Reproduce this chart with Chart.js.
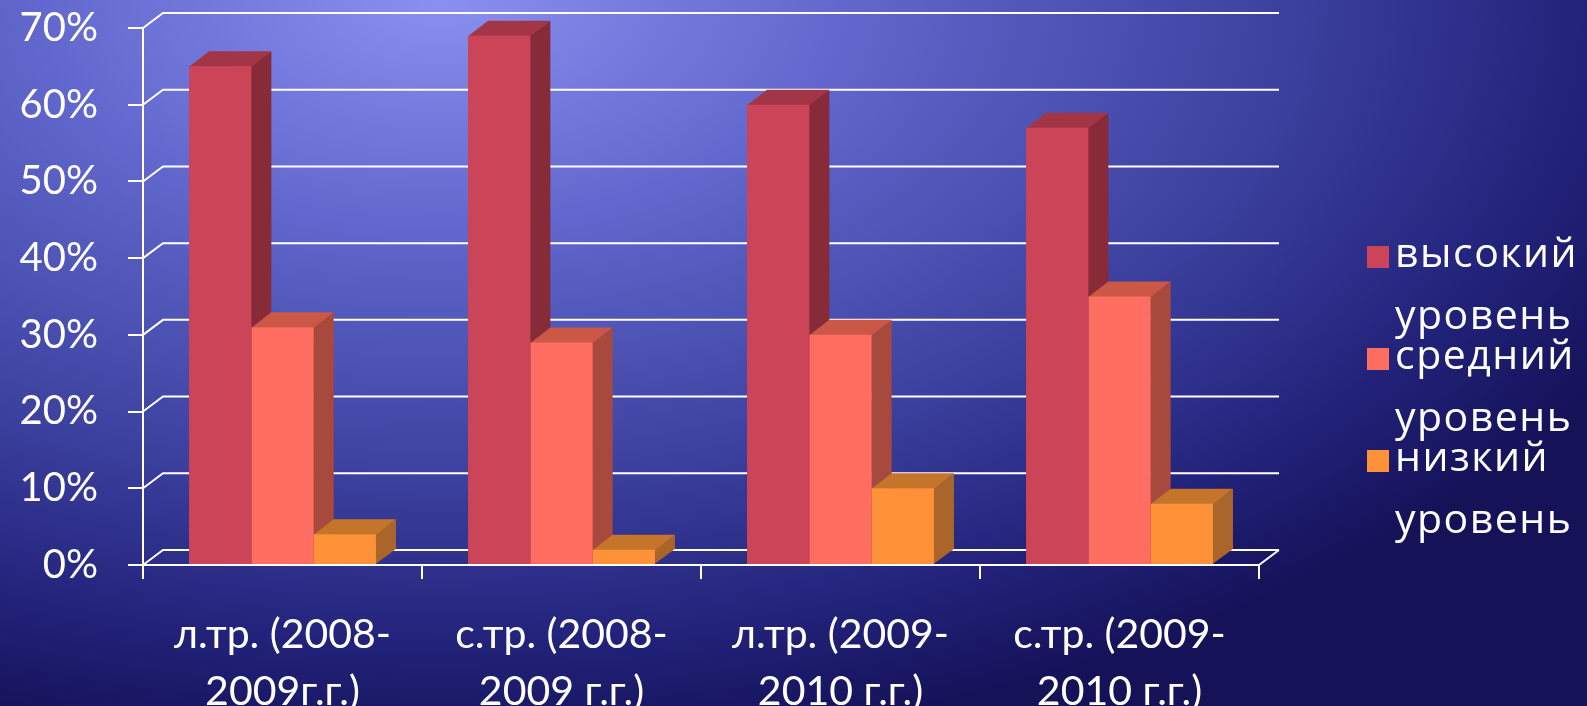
<!DOCTYPE html>
<html lang="ru">
<head>
<meta charset="utf-8">
<title>Уровень</title>
<script src="https://cdn.jsdelivr.net/npm/chart.js@4.4.1/dist/chart.umd.min.js"></script>
<style>
  html, body { margin: 0; padding: 0; overflow: hidden; }
  #wrap {
    width: 1587px;
    height: 706px;
    background: radial-gradient(ellipse 1350px 760px at 440px 0px,
      #8a90f0 0%, #6167cc 30%, #3d42a0 62%, #22227a 85%, #151258 100%);
  }
</style>
</head>
<body>
<div id="wrap"><canvas id="grafico"></canvas></div>
<script>
const periods = [
  ['л.тр. (2008-', '2009г.г.)'],
  ['с.тр. (2008-', '2009 г.г.)'],
  ['л.тр. (2009-', '2010 г.г.)'],
  ['с.тр. (2009-', '2010 г.г.)']
];
const highLevel = [65, 69, 60, 57];
const midLevel = [31, 29, 30, 35];
const lowLevel = [4, 2, 10, 8];
const seriesNames = [
  ['высокий', 'уровень'],
  ['средний', 'уровень'],
  ['низкий', 'уровень']
];
const yMax = 70;
const yStep = 10;

// faces of the 3d columns: front, top, right side
const frontColors = ['#CB4458', '#FF6E60', '#FF9239'];
const topColors = ['#A33646', '#CB5747', '#C4752A'];
const sideColors = ['#872B38', '#A8493E', '#AA652A'];

// depth of the box (px)
const DX = 20;
const DY = 15;

const box3d = {
  id: 'box3d',
  beforeDatasetsDraw(chart) {
    const { ctx, chartArea: a, scales: { y } } = chart;
    ctx.save();
    ctx.strokeStyle = '#ffffff';
    ctx.lineWidth = 2;
    ctx.beginPath();
    y.ticks.forEach(t => {
      const py = y.getPixelForValue(t.value);
      ctx.moveTo(a.left, py);
      ctx.lineTo(a.left + DX, py - DY);
      ctx.lineTo(a.right + DX, py - DY);
    });
    ctx.moveTo(a.right, a.bottom);
    ctx.lineTo(a.right + DX, a.bottom - DY);
    ctx.stroke();

    // tops and sides, painted left to right so the next column hides the previous side
    const bars = [];
    chart.data.datasets.forEach((ds, i) => {
      chart.getDatasetMeta(i).data.forEach(el => bars.push({ el, i }));
    });
    bars.sort((p, q) => p.el.x - q.el.x);
    bars.forEach(({ el, i }) => {
      const l = el.x - el.width / 2;
      const r = el.x + el.width / 2;
      const t = el.y;
      const b = el.base;
      ctx.fillStyle = sideColors[i];
      ctx.beginPath();
      ctx.moveTo(r - 0.5, t);
      ctx.lineTo(r + DX, t - DY);
      ctx.lineTo(r + DX, b - DY);
      ctx.lineTo(r - 0.5, b);
      ctx.closePath();
      ctx.fill();
      ctx.fillStyle = topColors[i];
      ctx.beginPath();
      ctx.moveTo(l, t + 0.5);
      ctx.lineTo(l + DX, t - DY);
      ctx.lineTo(r + DX, t - DY);
      ctx.lineTo(r, t + 0.5);
      ctx.closePath();
      ctx.fill();
    });
    ctx.restore();
  }
};

const sideLegend = {
  id: 'sideLegend',
  afterDraw(chart) {
    const { ctx } = chart;
    const x0 = 1367;
    const firstLine = 256;
    const itemGap = 102;
    const lineGap = 62;
    ctx.save();
    ctx.font = '41px "Open Sans"';
    ctx.letterSpacing = '1.5px';
    ctx.textBaseline = 'alphabetic';
    ctx.textAlign = 'left';
    chart.data.datasets.forEach((ds, i) => {
      const cy = firstLine + i * itemGap;
      ctx.fillStyle = ds.backgroundColor;
      ctx.fillRect(x0, cy - 10, 22, 22);
      ctx.fillStyle = '#ffffff';
      ds.label.forEach((line, k) => {
        ctx.fillText(line, x0 + 28, cy + 11 + k * lineGap);
      });
    });
    ctx.restore();
  }
};

const series = [highLevel, midLevel, lowLevel];

new Chart(document.getElementById('grafico'), {
  type: 'bar',
  data: {
    labels: periods,
    datasets: series.map((values, i) => ({
      label: seriesNames[i],
      data: values,
      backgroundColor: frontColors[i],
      borderWidth: 0,
      categoryPercentage: 0.67,
      barPercentage: 1
    }))
  },
  options: {
    responsive: true,
    maintainAspectRatio: false,
    animation: false,
    layout: { padding: { top: 28, right: 328, left: 0, bottom: 0 } },
    plugins: {
      legend: { display: false },
      tooltip: { enabled: false }
    },
    scales: {
      x: {
        afterFit(s) { s.height = 141; },
        grid: {
          offset: true,
          drawOnChartArea: false,
          color: '#ffffff',
          lineWidth: 2,
          tickLength: 14
        },
        border: { color: '#ffffff', width: 2 },
        ticks: {
          color: '#ffffff',
          padding: 27,
          maxRotation: 0,
          font: { family: 'Lato', size: 41, lineHeight: 1.4 }
        }
      },
      y: {
        min: 0,
        max: yMax,
        afterFit(s) {
          s.width = 143;
          // the labels may hang over the area edges
          s.paddingTop = 0;
          s.paddingBottom = 0;
        },
        grid: {
          drawOnChartArea: false,
          color: '#ffffff',
          lineWidth: 2,
          tickLength: 15
        },
        border: { color: '#ffffff', width: 2 },
        ticks: {
          stepSize: yStep,
          color: '#ffffff',
          padding: 30,
          font: { family: 'Lato', size: 40, lineHeight: 1.2 },
          callback: v => v + '%'
        }
      }
    }
  },
  plugins: [box3d, sideLegend]
});
</script>
</body>
</html>
